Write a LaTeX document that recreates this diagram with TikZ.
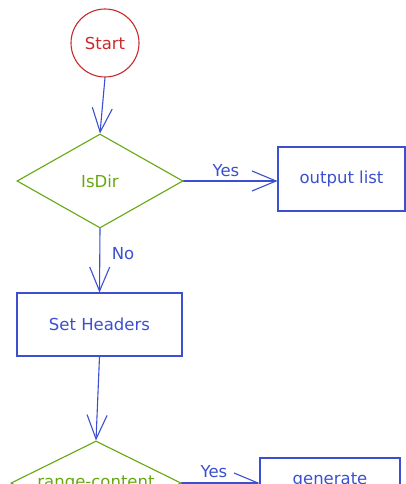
\documentclass[tikz,border=0pt]{standalone}
\usepackage{fontspec}
\setmainfont{DejaVu Sans}
\usetikzlibrary{shapes.geometric,arrows.meta}
\definecolor{skred}{HTML}{C92A2A}
\definecolor{skgreen}{HTML}{66A80F}
\definecolor{skblue}{HTML}{3B4FD0}
\tikzset{
  every node/.style={font=\fontsize{16.5}{19}\selectfont},
  startnode/.style={circle,draw=skred,text=skred,line width=1.1pt,minimum size=68pt,inner sep=0pt},
  decide/.style={diamond,aspect=2,draw=skgreen,text=skgreen,line width=1.1pt,inner sep=0pt},
  box/.style={rectangle,draw=skblue,text=skblue,line width=1.1pt,inner sep=0pt},
  lbl/.style={text=skblue,inner sep=0pt},
  conn/.style={draw=skblue,line width=1.1pt,line cap=round,-{Straight Barb[length=24pt,width=20pt,line width=1.1pt]}}
}
\begin{document}
\begin{tikzpicture}[x=1pt,y=-1pt]
\useasboundingbox (0,0) rectangle (406,484);
\clip (0,0) rectangle (406,484);
\node[startnode] (start) at (105,43) {Start};
\node[decide,minimum width=166pt,minimum height=94pt] (isdir) at (100,181) {IsDir};
\node[box,minimum width=127pt,minimum height=64pt] (out) at (341.5,179) {output list};
\node[box,minimum width=165pt,minimum height=63pt] (hdr) at (99.5,324.5) {Set Headers};
\node[decide,minimum width=170pt,minimum height=84pt] (range) at (96,483) {range-content};
\node[box,minimum width=140pt,minimum height=64pt] (gen) at (330,490) {};
\node[lbl] (gentext) at (330,480) {generate};
\node[lbl] (yes1) at (226,171) {Yes};
\node[lbl] (no) at (123,254) {No};
\node[lbl] (yes2) at (214,472) {Yes};
\draw[conn] (start.south) -- (isdir.north);
\draw[conn] (isdir.east) -- (out.west |- isdir.east);
\draw[conn] (isdir.south) -- (hdr.north);
\draw[conn] (hdr.south) -- (range.north);
\draw[conn] (range.east) -- (range.east -| gen.west);
\end{tikzpicture}
\end{document}
